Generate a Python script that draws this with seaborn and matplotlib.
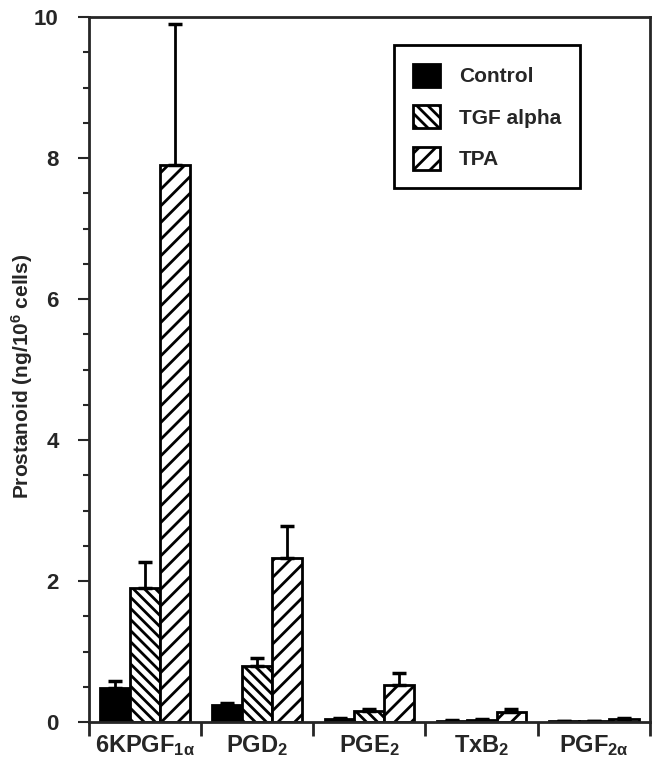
import numpy as np
import pandas as pd
import seaborn as sns
import matplotlib.pyplot as plt
from matplotlib.ticker import MultipleLocator, FixedLocator

# Data ----------------
categories = ['6KPGF1a', 'PGD2', 'PGE2', 'TxB2', 'PGF2a']
tick_labels = [r'6KPGF$_{1\alpha}$', r'PGD$_{2}$', r'PGE$_{2}$', r'TxB$_{2}$', r'PGF$_{2\alpha}$']
treatments = ['Control', 'TGF alpha', 'TPA']

control = [0.48, 0.24, 0.05, 0.02, 0.01]
tgf_alpha = [1.90, 0.80, 0.16, 0.03, 0.01]
tpa = [7.90, 2.33, 0.52, 0.14, 0.05]

control_err = [0.10, 0.03, 0.01, 0.01, 0.005]
tgf_alpha_err = [0.37, 0.11, 0.02, 0.01, 0.005]
tpa_err = [2.00, 0.45, 0.18, 0.05, 0.01]

df = pd.DataFrame({
    'prostanoid': categories * 3,
    'treatment': np.repeat(treatments, len(categories)),
    'value': control + tgf_alpha + tpa,
})
errors = [control_err, tgf_alpha_err, tpa_err]

# Style ---------------
sns.set_style('ticks')
plt.rcParams['font.family'] = ['Liberation Sans', 'DejaVu Sans']
plt.rcParams['font.weight'] = 'bold'
plt.rcParams['mathtext.fontset'] = 'custom'
plt.rcParams['mathtext.rm'] = 'Liberation Sans:bold'
plt.rcParams['mathtext.it'] = 'Liberation Sans:bold'
plt.rcParams['mathtext.bf'] = 'Liberation Sans:bold'
plt.rcParams['mathtext.default'] = 'rm'
plt.rcParams['hatch.linewidth'] = 2.0
plt.rcParams['hatch.color'] = 'black'

fig = plt.figure(figsize=(6.55, 7.74), dpi=100)
ax = fig.add_axes([0.136, 0.067, 0.856, 0.911])

sns.barplot(data=df, x='prostanoid', y='value', hue='treatment',
            palette=['black', 'white', 'white'], saturation=1,
            edgecolor='black', linewidth=2, legend=False, ax=ax)

hatches = ['', '\\\\\\', '//']
for cont, hatch, err in zip(ax.containers, hatches, errors):
    xs = []
    tops = []
    for bar in cont:
        bar.set_hatch(hatch)
        xs.append(bar.get_x() + bar.get_width() / 2)
        tops.append(bar.get_height())
    ax.errorbar(xs, tops, yerr=[np.zeros(len(err)), err], fmt='none',
                ecolor='black', elinewidth=2, capsize=5, capthick=2.5, zorder=1)

ax.legend(handles=[c[0] for c in ax.containers], labels=treatments,
          loc='upper right', bbox_to_anchor=(0.875, 0.96), borderaxespad=0,
          frameon=True, fancybox=False, edgecolor='black', framealpha=1,
          prop={'size': 15, 'weight': 'bold'}, handlelength=1.3, handleheight=1.3,
          labelspacing=0.9, borderpad=0.9, handletextpad=0.9)
ax.get_legend().get_frame().set_linewidth(2)

ax.set_xlim(-0.5, 4.5)
ax.set_ylim(0, 10)
ax.yaxis.set_major_locator(MultipleLocator(2))
ax.yaxis.set_minor_locator(MultipleLocator(0.5))
ax.set_xticks(range(len(categories)))
ax.set_xticklabels(tick_labels, fontsize=17, fontweight='bold')
ax.xaxis.set_minor_locator(FixedLocator(np.arange(-0.5, 5, 1)))
ax.tick_params(axis='x', which='major', length=0, pad=8)
ax.tick_params(axis='x', which='minor', length=10, width=2, direction='out')
ax.tick_params(axis='y', which='major', length=8, width=1.5, labelsize=16, pad=14)
ax.tick_params(axis='y', which='minor', length=4, width=1.5)
for lab in ax.get_yticklabels():
    lab.set_fontweight('bold')

ax.set_xlabel('')
ax.set_ylabel(r'Prostanoid (ng/10$^{6}$ cells)', fontsize=15, fontweight='bold')
ax.yaxis.set_label_coords(-0.096, 0.49)
for side in ['left', 'right', 'top', 'bottom']:
    ax.spines[side].set_visible(True)
    ax.spines[side].set_linewidth(2)

fig.savefig('out.png', dpi=100)
